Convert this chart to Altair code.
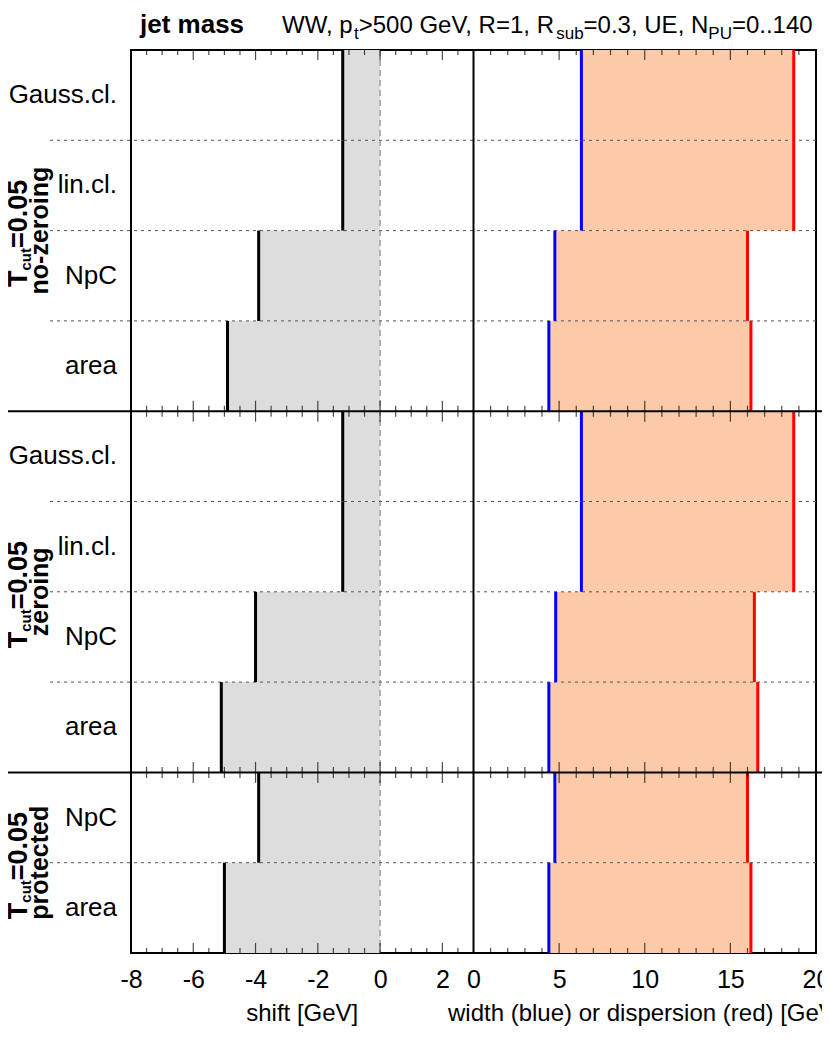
import altair as alt
import pandas as pd
import numpy as np

# ---------------- data ----------------
methods = ["Gauss.cl.", "lin.cl.", "NpC", "area",
           "Gauss.cl.", "lin.cl.", "NpC", "area",
           "NpC", "area"]
groups = ["no-zeroing"] * 4 + ["zeroing"] * 4 + ["protected"] * 2
shift = [-1.2, -1.2, -3.9, -4.9, -1.2, -1.2, -4.0, -5.1, -3.9, -5.0]
width_vals = [6.3, 6.3, 4.75, 4.4, 6.3, 6.3, 4.8, 4.4, 4.75, 4.4]
dispersion = [18.7, 18.7, 16.0, 16.2, 18.7, 18.7, 16.4, 16.6, 16.0, 16.2]
group_order = ["no-zeroing", "zeroing", "protected"]

shift_major = [-8, -6, -4, -2, 0, 2]
width_major = [0, 5, 10, 15, 20]

title_bold = "jet mass"
title_parts = [("WW, p", False), ("t", True), (">500 GeV, R=1, R", False),
               ("sub", True), ("=0.3, UE, N", False), ("PU", True),
               ("=0..140", False)]
x_title_left = "shift [GeV]"
x_title_right = "width (blue) or dispersion (red) [GeV]"
cut_parts = ("T", "cut", "=0.05")

# ---------------- geometry / scales ----------------
SH_MIN, SH_MAX = -8, 3
WD_MIN, WD_MAX = 0, 20
K = (SH_MAX - SH_MIN) / (WD_MAX - WD_MIN)   # right panel mapped onto a common axis
U_MAX = SH_MAX + (WD_MAX - WD_MIN) * K

W, H = 685, 903
n = len(methods)
FONT = "Liberation Sans"

xs = alt.Scale(domain=[SH_MIN, U_MAX], nice=False, zero=False)
ys = alt.Scale(domain=[0, n], reverse=True, nice=False, zero=False)

# Helvetica/Arial advance widths (per 1000 em) for laying out composed labels
REG = {' ': 278, ',': 278, '-': 333, '.': 278, '=': 584, '>': 584, '[': 278, ']': 278,
       '(': 333, ')': 333, 'G': 778, 'N': 722, 'P': 667, 'R': 722, 'U': 722, 'V': 667,
       'W': 944, 'E': 667, 'a': 556, 'b': 556, 'c': 500, 'd': 556, 'e': 556, 'f': 278,
       'g': 556, 'h': 556, 'i': 222, 'l': 222, 'm': 833, 'n': 556, 'o': 556, 'p': 556,
       'r': 333, 's': 500, 't': 278, 'u': 556, 'w': 722}
BOLD = {'.': 278, '=': 584, 'c': 556, 'f': 333, 'u': 611, 't': 333, 'T': 611}


def tw(s, size, bold=False):
    tab = BOLD if bold else REG
    return sum(tab.get(ch, 556) for ch in s) * size / 1000.0


def u_of(w):
    return SH_MAX + (w - WD_MIN) * K


df = pd.DataFrame({"method": methods, "group": groups, "shift": shift,
                   "width": width_vals, "disp": dispersion})
df["r0"] = np.arange(n)
df["r1"] = df["r0"] + 1
df["rc"] = df["r0"] + 0.5

sizes = [groups.count(g) for g in group_order]
starts = np.cumsum([0] + sizes[:-1])
grp_df = pd.DataFrame({"name": group_order,
                       "c": [float(s + z / 2) for s, z in zip(starts, sizes)]})
group_bounds = [int(v) for v in np.cumsum(sizes)[:-1]]
sep_rows = [i for i in range(1, n) if i not in group_bounds]

calc = dict(wu=f"{SH_MAX} + (datum.width - {WD_MIN}) * {K}",
            du=f"{SH_MAX} + (datum.disp - {WD_MIN}) * {K}")

axis_vals = [float(v) for v in shift_major] + [u_of(v) for v in width_major]
x_axis = alt.Axis(values=axis_vals,
                  labelExpr=f"datum.value <= {SH_MAX - 0.5} ? '' + datum.value : '' + round((datum.value - {SH_MAX}) / {K} + {WD_MIN})",
                  ticks=False, domain=False, grid=False, labelFontSize=25,
                  labelFont=FONT, labelColor="black", labelPadding=14,
                  labelFlush=False, labelOverlap=False, title=None, orient="bottom")


def X(f):
    return alt.X(f, scale=xs, axis=x_axis)


def Y(f):
    return alt.Y(f, scale=ys, axis=None)


gray = alt.Chart(df).mark_rect(color="#dddddd").encode(
    x=X("shift:Q"), x2=alt.datum(0), y=Y("r0:Q"), y2="r1:Q")

peach = alt.Chart(df).transform_calculate(**calc).mark_rect(color="#fdcaa9").encode(
    x=X("wu:Q"), x2="du:Q", y=Y("r0:Q"), y2="r1:Q")

seps = alt.Chart(pd.DataFrame({"b": sep_rows})).mark_rule(
    color="#555555", strokeWidth=1, strokeDash=[3, 4]).encode(
    y=Y("b:Q"), x=alt.value(-81), x2=alt.value(W))

zero_line = alt.Chart(pd.DataFrame({"z": [0]})).mark_rule(
    color="#777777", strokeWidth=1, strokeDash=[6, 4]).encode(
    x=X("z:Q"), y=alt.value(0), y2=alt.value(H))

black = alt.Chart(df).mark_rule(color="black", strokeWidth=3).encode(
    x=X("shift:Q"), y=Y("r0:Q"), y2="r1:Q")
blue = alt.Chart(df).transform_calculate(**calc).mark_rule(color="#0000ff", strokeWidth=3).encode(
    x=X("wu:Q"), y=Y("r0:Q"), y2="r1:Q")
red = alt.Chart(df).transform_calculate(**calc).mark_rule(color="#ff0000", strokeWidth=3).encode(
    x=X("du:Q"), y=Y("r0:Q"), y2="r1:Q")

mid = alt.Chart(pd.DataFrame({"m": [float(SH_MAX)]})).mark_rule(color="black", strokeWidth=2).encode(
    x=X("m:Q"), y=alt.value(0), y2=alt.value(H))

gbound = alt.Chart(pd.DataFrame({"b": group_bounds})).mark_rule(color="black", strokeWidth=2).encode(
    y=Y("b:Q"), x=alt.value(-131), x2=alt.value(W + 20))

# minor / major ticks on every panel edge
tick_list = []
for v in np.arange(SH_MIN + 0.5, SH_MAX, 0.5):
    tick_list.append((float(v), float(v) in shift_major))
for v in range(WD_MIN + 1, WD_MAX):
    tick_list.append((u_of(v), v in width_major))
tick_df = pd.DataFrame(tick_list, columns=["pos", "major"])

tick_layers = []
for major in (True, False):
    sub = tick_df[tick_df["major"] == major]
    L = 10 if major else 5
    for b, off in ((0, L / 2), (n, -L / 2)):
        tick_layers.append(alt.Chart(sub.assign(b=b)).mark_tick(
            orient="vertical", thickness=1.2, color="black", size=L, yOffset=off).encode(
            x=X("pos:Q"), y=Y("b:Q")))
    for b in group_bounds:
        tick_layers.append(alt.Chart(sub.assign(b=b)).mark_tick(
            orient="vertical", thickness=1.2, color="black", size=2 * L + 1).encode(
            x=X("pos:Q"), y=Y("b:Q")))

# row labels
row_labels = alt.Chart(df).mark_text(align="right", baseline="middle", fontSize=26,
                                     font=FONT, color="black").encode(
    x=alt.value(-14), y=Y("rc:Q"), text="method:N")

# group labels (rotated, two lines)
A = 40
G1 = 27
cut_w = tw(cut_parts[1], 15, True)
L1X, L2X = -104, -83
g2 = alt.Chart(grp_df).mark_text(angle=270, align="center", baseline="alphabetic",
                                 fontSize=25, fontWeight="bold", font=FONT, color="black").encode(
    x=alt.value(L2X), y=Y("c:Q"), text="name:N")
g1a = alt.Chart(grp_df.assign(t=cut_parts[0])).mark_text(
    angle=270, align="right", baseline="alphabetic", fontSize=G1, fontWeight="bold",
    font=FONT, color="black", dx=-A).encode(x=alt.value(L1X), y=Y("c:Q"), text="t:N")
g1b = alt.Chart(grp_df.assign(t=cut_parts[1])).mark_text(
    angle=270, align="left", baseline="alphabetic", fontSize=15, fontWeight="bold",
    font=FONT, color="black", dx=-A, dy=4).encode(x=alt.value(L1X), y=Y("c:Q"), text="t:N")
g1c = alt.Chart(grp_df.assign(t=cut_parts[2])).mark_text(
    angle=270, align="left", baseline="alphabetic", fontSize=G1, fontWeight="bold",
    font=FONT, color="black", dx=-A + cut_w).encode(x=alt.value(L1X), y=Y("c:Q"), text="t:N")

# title pieces
TY = -17
title_layers = [alt.Chart(pd.DataFrame({"t": [title_bold]})).mark_text(
    align="left", baseline="alphabetic", fontSize=26, fontWeight="bold", font=FONT,
    color="black").encode(x=alt.value(9), y=alt.value(TY), text="t:N")]
x0 = 151.0
for txt, is_sub in title_parts:
    size = 17 if is_sub else 24
    title_layers.append(alt.Chart(pd.DataFrame({"t": [txt]})).mark_text(
        align="left", baseline="alphabetic", fontSize=size, font=FONT, color="black").encode(
        x=alt.value(x0), y=alt.value(TY + (6 if is_sub else 0)), text="t:N"))
    x0 += tw(txt, size)

# axis titles
half = W * (SH_MAX - SH_MIN) / (U_MAX - SH_MIN)
XTY = 971
xt_l = alt.Chart(pd.DataFrame({"t": [x_title_left]})).mark_text(
    align="center", baseline="alphabetic", fontSize=24, font=FONT, color="black").encode(
    x=alt.value(half / 2), y=alt.value(XTY), text="t:N")
xt_r = alt.Chart(pd.DataFrame({"t": [x_title_right]})).mark_text(
    align="center", baseline="alphabetic", fontSize=24, font=FONT, color="black").encode(
    x=alt.value(half + (W - half) / 2), y=alt.value(XTY), text="t:N")

chart = alt.layer(
    gray, peach, seps, zero_line, black, blue, red, mid, gbound,
    *tick_layers, row_labels, g2, g1a, g1b, g1c, *title_layers, xt_l, xt_r
).properties(
    width=W, height=H,
    padding={"left": 123, "top": 42, "right": 6, "bottom": 73},
    autosize=alt.AutoSizeParams(type="none"),
).configure_view(stroke="black", strokeWidth=2)

chart.save("out.html", embed_options={"renderer": "svg", "actions": False})
